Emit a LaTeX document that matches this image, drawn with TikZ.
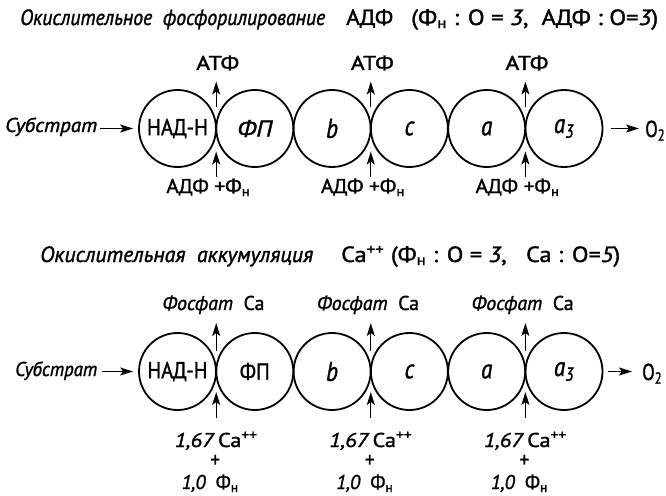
\documentclass[tikz,border=0pt]{standalone}
\usepackage{fontspec}
\setmainfont{PT Sans}[FakeStretch=0.85,FakeBold=1.3]
\usetikzlibrary{arrows.meta,calc}
\newcommand{\fitw}[2]{\resizebox{#1}{\height}{#2}}
\begin{document}
\begin{tikzpicture}[x=1pt,y=-1pt,
  cell/.style={circle,draw,line width=1.8pt,minimum size=77pt,inner sep=0pt,font=\fontsize{23}{25}\selectfont},
  lett/.style={font=\fontsize{27}{30}\selectfont\itshape},
  txt/.style={inner sep=0pt,font=\fontsize{20}{22}\selectfont},
  ttl/.style={inner sep=0pt,font=\fontsize{22}{24}\selectfont},
  big/.style={inner sep=0pt,font=\fontsize{23}{25}\selectfont},
  plus/.style={inner sep=0pt,font=\fontsize{22}{22}\selectfont},
  arr/.style={line width=1.3pt,-{Stealth[length=13pt,width=8pt,inset=3pt]}}]
\useasboundingbox (0,0) rectangle (666,495);

% ---------- titles ----------
\node[ttl,anchor=base west] (t1a) at (20,25) {\fitw{305pt}{\itshape Окислительное\ \ фосфорилирование}};
\node[ttl,anchor=base west] (t1b) at (346,25) {\fitw{47pt}{АДФ}};
\node[ttl,anchor=base west] (t1c) at (411,25) {\fitw{247pt}{(Ф\textsubscript{н} : O = {\itshape 3}, \ АДФ : O={\itshape 3})}};

\node[ttl,anchor=base west] (t2a) at (40,262) {\fitw{273pt}{\itshape Окислительная\ \ аккумуляция}};
\node[ttl,anchor=base west] (t2b) at (341,262) {\fitw{279pt}{Ca\textsuperscript{++} (Ф\textsubscript{н} : O = {\itshape 3}, \ \ Ca : O={\itshape 5})}};

% ---------- row 1 ----------
\node[cell] (r1c1) at (177.5,128.5) {\fitw{61pt}{НАД-Н}};
\node[cell] (r1c2) at (254.8,128.5) {\fitw{35pt}{\itshape ФП}};
\node[cell,lett] (r1c3) at (332.1,128.5) {b};
\node[cell,lett] (r1c4) at (409.4,128.5) {c};
\node[cell,lett] (r1c5) at (486.7,128.5) {a};
\node[cell,lett] (r1c6) at (564.0,128.5) {a\textsubscript{3}};

\coordinate (p11) at (216.2,128.5);
\coordinate (p12) at (370.8,128.5);
\coordinate (p13) at (525.4,128.5);

\node[txt,anchor=base] (atf1) at (217.7,70) {\fitw{43pt}{АТФ}};
\node[txt,anchor=base] (atf2) at (372.3,70) {\fitw{43pt}{АТФ}};
\node[txt,anchor=base] (atf3) at (526.9,70) {\fitw{43pt}{АТФ}};

\node[txt,anchor=base west] (adf1) at (166.2,193) {\fitw{84pt}{АДФ +Ф\textsubscript{н}}};
\node[txt,anchor=base west] (adf2) at (320.8,193) {\fitw{84pt}{АДФ +Ф\textsubscript{н}}};
\node[txt,anchor=base west] (adf3) at (475.4,193) {\fitw{84pt}{АДФ +Ф\textsubscript{н}}};

\foreach \p in {p11,p12,p13}{
  \draw[arr] ([yshift=21.5pt]\p) -- ([yshift=47pt]\p);
  \draw[arr] ([yshift=-48pt]\p) -- ([yshift=-23pt]\p);
}

\node[txt,anchor=base west] (sub1) at (5,132) {\fitw{92pt}{\itshape Субстрат}};
\draw[arr] ([xshift=3pt]sub1.east |- r1c1.center) -- ([xshift=-5pt]r1c1.west);
\node[big,anchor=base west] (o21) at (645,137) {\fitw{20pt}{O\textsubscript{2}}};
\draw[arr] ([xshift=8pt]r1c6.east) -- ([xshift=-6pt]o21.west |- r1c6.center);

% ---------- row 2 ----------
\node[cell] (r2c1) at (177.5,371.5) {\fitw{60pt}{НАД-Н}};
\node[cell] (r2c2) at (254.8,371.5) {\fitw{30pt}{ФП}};
\node[cell,lett] (r2c3) at (332.1,371.5) {b};
\node[cell,lett] (r2c4) at (409.4,371.5) {c};
\node[cell,lett] (r2c5) at (486.7,371.5) {a};
\node[cell,lett] (r2c6) at (564.0,371.5) {a\textsubscript{3}};

\coordinate (p21) at (216.2,371.5);
\coordinate (p22) at (370.8,371.5);
\coordinate (p23) at (525.4,371.5);

\node[txt,anchor=base west] (fc1) at (162.2,310) {\fitw{102pt}{{\itshape Фосфат}\ \ Ca}};
\node[txt,anchor=base west] (fc2) at (316.8,310) {\fitw{102pt}{{\itshape Фосфат}\ \ Ca}};
\node[txt,anchor=base west] (fc3) at (471.4,310) {\fitw{102pt}{{\itshape Фосфат}\ \ Ca}};

\foreach \p in {p21,p22,p23}{
  \draw[arr] ([yshift=20.5pt]\p) -- ([yshift=48.5pt]\p);
  \draw[arr] ([yshift=-46.5pt]\p) -- ([yshift=-20.5pt]\p);
}

\node[txt,anchor=base] (ca1) at (216.2,447) {\fitw{83pt}{{\itshape 1,67}\,Ca\textsuperscript{++}}};
\node[txt,anchor=base] (ca2) at (370.8,447) {\fitw{83pt}{{\itshape 1,67}\,Ca\textsuperscript{++}}};
\node[txt,anchor=base] (ca3) at (525.4,447) {\fitw{83pt}{{\itshape 1,67}\,Ca\textsuperscript{++}}};

\node[plus] (pl1) at (215.2,461) {+};
\node[plus] (pl2) at (369.8,461) {+};
\node[plus] (pl3) at (524.4,461) {+};

\node[txt,anchor=base] (fn1) at (210.2,489) {\fitw{57pt}{{\itshape 1,0}\ \ Ф\textsubscript{н}}};
\node[txt,anchor=base] (fn2) at (364.8,489) {\fitw{57pt}{{\itshape 1,0}\ \ Ф\textsubscript{н}}};
\node[txt,anchor=base] (fn3) at (519.4,489) {\fitw{57pt}{{\itshape 1,0}\ \ Ф\textsubscript{н}}};

\node[txt,anchor=base west] (sub2) at (15,376) {\fitw{82pt}{\itshape Субстрат}};
\draw[arr] ([xshift=5pt]sub2.east |- r2c1.center) -- ([xshift=-5pt]r2c1.west);
\node[big,anchor=base west] (o22) at (642,380) {\fitw{20pt}{O\textsubscript{2}}};
\draw[arr] ([xshift=5pt]r2c6.east) -- ([xshift=-10pt]o22.west |- r2c6.center);
\end{tikzpicture}
\end{document}
